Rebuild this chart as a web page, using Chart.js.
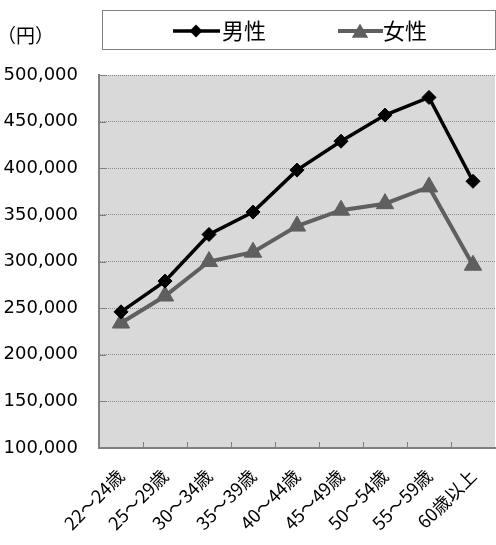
<!DOCTYPE html>
<html><head><meta charset="utf-8">
<script src="https://cdn.jsdelivr.net/npm/chart.js@4/dist/chart.umd.min.js"></script>
<style>html,body{margin:0;padding:0;background:#fff;overflow:hidden;}</style>
</head><body>
<canvas id="c" width="496" height="545"></canvas>
<script>
const categories = ['22～24歳','25～29歳','30～34歳','35～39歳','40～44歳','45～49歳','50～54歳','55～59歳','60歳以上'];
const maleValues = [246000,279000,329000,353000,398000,429000,457000,476000,386000];
const femaleValues = [234000,263000,300000,310000,338000,355000,362000,380000,296000];
const yTicks = [100000,150000,200000,250000,300000,350000,400000,450000,500000];
const seriesNames = ['男性','女性'];
const unitLabel = '（円）';

const CJK = '"Noto Sans CJK JP", sans-serif';
const maleColor = '#000000';
const femaleColor = '#5f5f5f';

function drawMarker(ctx, style, x, y, r, color){
  ctx.save();
  ctx.fillStyle = color;
  ctx.beginPath();
  if (style === 'diamond'){
    ctx.moveTo(x, y - r); ctx.lineTo(x + r, y); ctx.lineTo(x, y + r); ctx.lineTo(x - r, y);
  } else {
    const w = r * Math.sqrt(3);
    ctx.moveTo(x, y - r); ctx.lineTo(x + w/2, y + r/2); ctx.lineTo(x - w/2, y + r/2);
  }
  ctx.closePath(); ctx.fill();
  ctx.restore();
}

const decor = {
  id: 'decor',
  beforeDraw(chart){
    const {ctx, chartArea:a} = chart;
    ctx.save();
    ctx.fillStyle = '#d9d9d9';
    ctx.fillRect(a.left, a.top, a.right - a.left, a.bottom - a.top);
    ctx.restore();
  },
  beforeDatasetsDraw(chart){
    const {ctx, chartArea:a, scales} = chart;
    ctx.save();
    ctx.strokeStyle = '#808080';
    ctx.lineWidth = 1;
    ctx.beginPath();
    yTicks.forEach(v => {
      const y = Math.round(scales.y.getPixelForValue(v)) + 0.5;
      ctx.moveTo(a.left, y); ctx.lineTo(a.left + 7, y);
    });
    for (let i = 1; i < categories.length; i++){
      const x = Math.round((scales.x.getPixelForValue(i-1) + scales.x.getPixelForValue(i)) / 2) + 0.5;
      ctx.moveTo(x, a.bottom); ctx.lineTo(x, a.bottom - 6);
    }
    ctx.stroke();
    ctx.restore();
  },
  afterDraw(chart){
    const {ctx} = chart;
    ctx.save();
    ctx.fillStyle = '#000';
    ctx.font = '19px ' + CJK;
    ctx.textBaseline = 'middle';
    ctx.textAlign = 'left';
    ctx.fillText(unitLabel, -3, 36);
    ctx.strokeStyle = '#808080';
    ctx.lineWidth = 1;
    ctx.strokeRect(102.5, 10.5, 393, 39);
    const ly = 31;
    ctx.strokeStyle = maleColor; ctx.lineWidth = 3.5;
    ctx.beginPath(); ctx.moveTo(173, ly); ctx.lineTo(220, ly); ctx.stroke();
    drawMarker(ctx, 'diamond', 196, ly, 6.5, maleColor);
    ctx.strokeStyle = femaleColor; ctx.lineWidth = 4;
    ctx.beginPath(); ctx.moveTo(338, ly); ctx.lineTo(383, ly); ctx.stroke();
    drawMarker(ctx, 'triangle', 360, ly + 2, 9.5, femaleColor);
    ctx.fillStyle = '#000';
    ctx.font = '22px ' + CJK;
    ctx.fillText(seriesNames[0], 222, ly);
    ctx.fillText(seriesNames[1], 383, ly);
    ctx.restore();
  }
};

new Chart(document.getElementById('c'), {
  type: 'line',
  data: {
    labels: categories,
    datasets: [
      { label: seriesNames[0], data: maleValues, borderColor: maleColor, backgroundColor: maleColor,
        borderWidth: 3.5, pointStyle: 'rectRot', pointRadius: 7, pointBorderWidth: 1,
        pointBackgroundColor: maleColor, pointBorderColor: maleColor, tension: 0, clip: false },
      { label: seriesNames[1], data: femaleValues, borderColor: femaleColor, backgroundColor: femaleColor,
        borderWidth: 4, pointStyle: 'triangle', pointRadius: 10, pointBorderWidth: 1,
        pointBackgroundColor: femaleColor, pointBorderColor: femaleColor, tension: 0, clip: false }
    ]
  },
  options: {
    responsive: false,
    animation: false,
    devicePixelRatio: 1,
    layout: { autoPadding: false, padding: { top: 75, right: 1, left: 0, bottom: 0 } },
    plugins: { legend: { display: false }, tooltip: { enabled: false } },
    scales: {
      x: {
        offset: true,
        grid: { drawOnChartArea: false, drawTicks: false },
        border: { display: true, color: '#808080', width: 2 },
        ticks: { color: '#000', font: { family: CJK, size: 18 }, minRotation: 45, maxRotation: 45, autoSkip: false, padding: 17 },
        afterFit(s){ s.height = 97; s.paddingLeft = 0; s.paddingRight = 0; }
      },
      y: {
        min: 100000, max: 500000,
        afterBuildTicks(s){ s.ticks = yTicks.map(v => ({ value: v })); },
        grid: { color: '#8a8a8a', lineWidth: 1, drawTicks: false },
        border: { display: true, color: '#808080', width: 2, dash: [1, 1] },
        ticks: { color: '#000', font: { family: '"DejaVu Sans", sans-serif', size: 18 }, padding: 21,
          callback: v => v.toLocaleString('en-US') },
        afterFit(s){ s.width = 99; }
      }
    }
  },
  plugins: [decor]
});
</script>
</body></html>
